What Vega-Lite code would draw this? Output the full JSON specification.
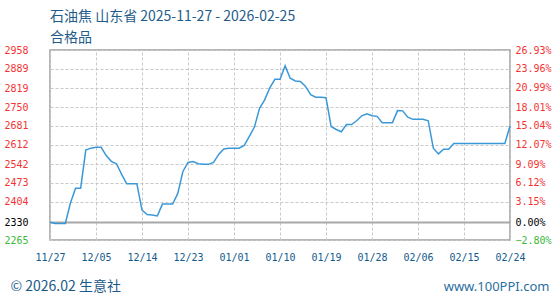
{
  "$schema": "https://vega.github.io/schema/vega-lite/v6.json",
  "width": 460,
  "height": 190,
  "autosize": "none",
  "padding": {"left": 50, "top": 50, "right": 50, "bottom": 60},
  "background": "white",
  "title": {
    "text": "石油焦 山东省 2025-11-27 - 2026-02-25",
    "subtitle": "合格品",
    "anchor": "start",
    "frame": "group",
    "offset": 0,
    "font": "Noto Sans CJK SC",
    "fontSize": 14,
    "fontWeight": "normal",
    "color": "#1f5c8b",
    "subtitleFont": "Noto Sans CJK SC",
    "subtitleFontSize": 14,
    "subtitleColor": "#1f5c8b",
    "subtitlePadding": 7
  },
  "datasets": {
    "price": [
      {"date": "2025-11-27", "price": 2330},
      {"date": "2025-11-28", "price": 2325},
      {"date": "2025-11-29", "price": 2325},
      {"date": "2025-11-30", "price": 2325},
      {"date": "2025-12-01", "price": 2400},
      {"date": "2025-12-02", "price": 2454},
      {"date": "2025-12-03", "price": 2454},
      {"date": "2025-12-04", "price": 2593},
      {"date": "2025-12-05", "price": 2600},
      {"date": "2025-12-06", "price": 2603},
      {"date": "2025-12-07", "price": 2603},
      {"date": "2025-12-08", "price": 2573},
      {"date": "2025-12-09", "price": 2552},
      {"date": "2025-12-10", "price": 2543},
      {"date": "2025-12-11", "price": 2505},
      {"date": "2025-12-12", "price": 2470},
      {"date": "2025-12-13", "price": 2470},
      {"date": "2025-12-14", "price": 2470},
      {"date": "2025-12-15", "price": 2374},
      {"date": "2025-12-16", "price": 2358},
      {"date": "2025-12-17", "price": 2356},
      {"date": "2025-12-18", "price": 2353},
      {"date": "2025-12-19", "price": 2396},
      {"date": "2025-12-20", "price": 2396},
      {"date": "2025-12-21", "price": 2396},
      {"date": "2025-12-22", "price": 2435},
      {"date": "2025-12-23", "price": 2515},
      {"date": "2025-12-24", "price": 2548},
      {"date": "2025-12-25", "price": 2551},
      {"date": "2025-12-26", "price": 2543},
      {"date": "2025-12-27", "price": 2541},
      {"date": "2025-12-28", "price": 2541},
      {"date": "2025-12-29", "price": 2548},
      {"date": "2025-12-30", "price": 2577},
      {"date": "2025-12-31", "price": 2597},
      {"date": "2026-01-01", "price": 2600},
      {"date": "2026-01-02", "price": 2600},
      {"date": "2026-01-03", "price": 2600},
      {"date": "2026-01-04", "price": 2610},
      {"date": "2026-01-05", "price": 2643},
      {"date": "2026-01-06", "price": 2677},
      {"date": "2026-01-07", "price": 2745},
      {"date": "2026-01-08", "price": 2776},
      {"date": "2026-01-09", "price": 2820},
      {"date": "2026-01-10", "price": 2851},
      {"date": "2026-01-11", "price": 2851},
      {"date": "2026-01-12", "price": 2900},
      {"date": "2026-01-13", "price": 2855},
      {"date": "2026-01-14", "price": 2845},
      {"date": "2026-01-15", "price": 2843},
      {"date": "2026-01-16", "price": 2825},
      {"date": "2026-01-17", "price": 2795},
      {"date": "2026-01-18", "price": 2786},
      {"date": "2026-01-19", "price": 2786},
      {"date": "2026-01-20", "price": 2784},
      {"date": "2026-01-21", "price": 2679},
      {"date": "2026-01-22", "price": 2668},
      {"date": "2026-01-23", "price": 2660},
      {"date": "2026-01-24", "price": 2686},
      {"date": "2026-01-25", "price": 2686},
      {"date": "2026-01-26", "price": 2700},
      {"date": "2026-01-27", "price": 2718},
      {"date": "2026-01-28", "price": 2725},
      {"date": "2026-01-29", "price": 2718},
      {"date": "2026-01-30", "price": 2716},
      {"date": "2026-01-31", "price": 2693},
      {"date": "2026-02-01", "price": 2693},
      {"date": "2026-02-02", "price": 2693},
      {"date": "2026-02-03", "price": 2737},
      {"date": "2026-02-04", "price": 2736},
      {"date": "2026-02-05", "price": 2713},
      {"date": "2026-02-06", "price": 2705},
      {"date": "2026-02-07", "price": 2705},
      {"date": "2026-02-08", "price": 2705},
      {"date": "2026-02-09", "price": 2700},
      {"date": "2026-02-10", "price": 2600},
      {"date": "2026-02-11", "price": 2579},
      {"date": "2026-02-12", "price": 2596},
      {"date": "2026-02-13", "price": 2596},
      {"date": "2026-02-14", "price": 2617},
      {"date": "2026-02-15", "price": 2617},
      {"date": "2026-02-16", "price": 2617},
      {"date": "2026-02-17", "price": 2617},
      {"date": "2026-02-18", "price": 2617},
      {"date": "2026-02-19", "price": 2617},
      {"date": "2026-02-20", "price": 2617},
      {"date": "2026-02-21", "price": 2617},
      {"date": "2026-02-22", "price": 2617},
      {"date": "2026-02-23", "price": 2617},
      {"date": "2026-02-24", "price": 2617},
      {"date": "2026-02-25", "price": 2681}
    ],
    "xlabels": [
      {"label": "11/27"}, {"label": "12/05"}, {"label": "12/14"}, {"label": "12/23"},
      {"label": "01/01"}, {"label": "01/10"}, {"label": "01/19"}, {"label": "01/28"},
      {"label": "02/06"}, {"label": "02/15"}, {"label": "02/24"}
    ],
    "pct": [
      {"pct": -2.8}, {"pct": 0}, {"pct": 3.15}, {"pct": 6.12}, {"pct": 9.09},
      {"pct": 12.07}, {"pct": 15.04}, {"pct": 18.01}, {"pct": 20.99}, {"pct": 23.96}, {"pct": 26.93}
    ]
  },
  "layer": [
    {
      "data": {"name": "xlabels"},
      "mark": {"type": "rule", "opacity": 0},
      "encoding": {
        "x": {
          "field": "label",
          "type": "ordinal",
          "sort": null,
          "scale": {"type": "point", "padding": 0},
          "axis": {
            "orient": "bottom",
            "title": null,
            "labelAngle": 0,
            "labelFont": "DejaVu Sans Mono",
            "labelFontSize": 10,
            "labelColor": "#135a8c",
            "labelPadding": 12,
            "ticks": false,
            "domain": false,
            "grid": true,
            "gridColor": "#c8c8c8",
            "gridDash": [3, 2],
            "gridWidth": 1
          }
        }
      }
    },
    {
      "data": {"name": "pct"},
      "mark": {"type": "rule", "opacity": 0},
      "encoding": {
        "y": {
          "field": "pct",
          "type": "quantitative",
          "scale": {"domain": [-2.8, 26.93], "nice": false, "zero": false},
          "axis": {
            "orient": "right",
            "values": [-2.8, 0, 3.15, 6.12, 9.09, 12.07, 15.04, 18.01, 20.99, 23.96, 26.93],
            "labelExpr": "format(datum.value, '.2f') + '%'",
            "labelFont": "DejaVu Sans Mono",
            "labelFontSize": 10,
            "labelBaseline": "middle",
            "labelAlign": "left",
            "labelPadding": 5,
            "labelColor": {
              "condition": [
                {"test": "datum.value < -0.01", "value": "#3cb83c"},
                {"test": "datum.value < 0.01", "value": "#000000"}
              ],
              "value": "#f33333"
            },
            "labelOverlap": false,
            "ticks": false,
            "domain": false,
            "grid": false,
            "title": "www.100PPI.com",
            "titleAngle": 0,
            "titleAlign": "right",
            "titleBaseline": "middle",
            "titleX": 39,
            "titleY": 236,
            "titleFont": "Noto Sans",
            "titleFontSize": 13,
            "titleFontWeight": "normal",
            "titleColor": "#2b6ea0"
          }
        }
      }
    },
    {
      "data": {"name": "price"},
      "mark": {"type": "line", "color": "#3b98d8", "strokeWidth": 1.5, "interpolate": "linear"},
      "encoding": {
        "x": {
          "field": "date",
          "type": "temporal",
          "scale": {
            "type": "utc",
            "domain": [
              {"year": 2025, "month": 11, "date": 27, "utc": true},
              {"year": 2026, "month": 2, "date": 25, "utc": true}
            ]
          },
          "axis": null
        },
        "y": {
          "field": "price",
          "type": "quantitative",
          "scale": {"domain": [2265, 2958], "nice": false, "zero": false},
          "axis": {
            "orient": "left",
            "values": [2265, 2330, 2404, 2473, 2542, 2612, 2681, 2750, 2819, 2889, 2958],
            "format": "d",
            "labelFont": "DejaVu Sans Mono",
            "labelFontSize": 10,
            "labelBaseline": "middle",
            "labelAlign": "right",
            "labelPadding": 22,
            "labelOverlap": false,
            "labelColor": {
              "condition": [
                {"test": "datum.value < 2300", "value": "#3cb83c"},
                {"test": "datum.value < 2340", "value": "#000000"}
              ],
              "value": "#f33333"
            },
            "ticks": false,
            "domain": false,
            "grid": true,
            "gridColor": {"condition": {"test": "datum.value == 2330", "value": "#a8a8a8"}, "value": "#c8c8c8"},
            "gridDash": {"condition": {"test": "datum.value == 2330", "value": []}, "value": [3, 2]},
            "gridWidth": {"condition": {"test": "datum.value == 2330", "value": 2}, "value": 1},
            "title": "© 2026.02 生意社",
            "titleAngle": 0,
            "titleAlign": "left",
            "titleBaseline": "middle",
            "titleX": -40,
            "titleY": 236,
            "titleFont": "Noto Sans CJK SC",
            "titleFontSize": 14,
            "titleFontWeight": "normal",
            "titleColor": "#1a5a8a"
          }
        }
      }
    }
  ],
  "resolve": {
    "scale": {"x": "independent", "y": "independent"},
    "axis": {"x": "independent", "y": "independent"}
  },
  "config": {
    "view": {"stroke": "#a0a0a0", "strokeWidth": 1.5}
  }
}
